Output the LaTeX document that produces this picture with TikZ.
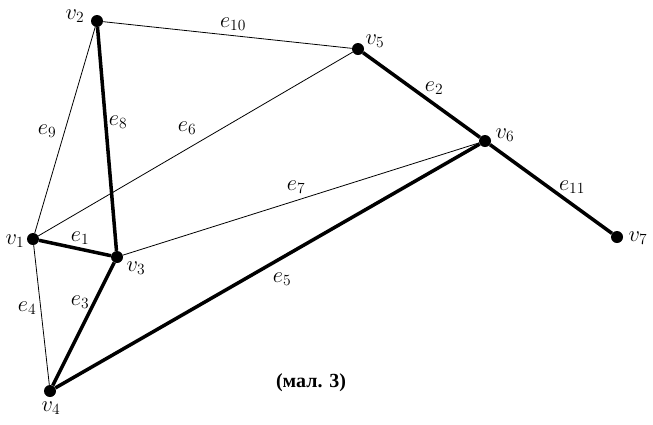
\documentclass[tikz,border=0pt]{standalone}
\usepackage{amsmath}
\usepackage{fontspec}
\newfontfamily\captionfont{Liberation Serif}

\begin{document}
\begin{tikzpicture}[x=1pt,y=-1pt]
\tikzstyle{every node}+=[inner sep=0pt]
\tikzstyle{vertex}=[circle,fill=black,minimum size=12pt]
\tikzstyle{lbl}=[font=\huge,scale=1.08]
\tikzstyle{bold edge}=[black,line width=3.5pt]
\tikzstyle{light edge}=[black,line width=0.8pt]
\useasboundingbox (0,0) rectangle (653,424);
\node [vertex] (v1) at (33,239) {};
\node [vertex] (v2) at (97,21) {};
\node [vertex] (v3) at (117,257) {};
\node [vertex] (v4) at (50,391) {};
\node [vertex] (v5) at (358,49) {};
\node [vertex] (v6) at (485,141) {};
\node [vertex] (v7) at (617,237) {};
\draw [light edge] (v1) -- (v2);
\draw [light edge] (v1) -- (v4);
\draw [light edge] (v1) -- (v5);
\draw [light edge] (v2) -- (v5);
\draw [light edge] (v3) -- (v6);
\draw [bold edge] (v1) -- (v3);
\draw [bold edge] (v2) -- (v3);
\draw [bold edge] (v3) -- (v4);
\draw [bold edge] (v4) -- (v6);
\draw [bold edge] (v5) -- (v6);
\draw [bold edge] (v6) -- (v7);
\node [lbl] (n1) at (15,241) {$v_1$};
\node [lbl] (n2) at (75,16) {$v_2$};
\node [lbl] (n3) at (136,268) {$v_3$};
\node [lbl] (n4) at (51,408) {$v_4$};
\node [lbl] (n5) at (375,41) {$v_5$};
\node [lbl] (n6) at (505,135) {$v_6$};
\node [lbl] (n7) at (638,238) {$v_7$};
\node [lbl] (l1) at (80,238) {$e_1$};
\node [lbl] (l2) at (434,88) {$e_2$};
\node [lbl] (l3) at (80,302) {$e_3$};
\node [lbl] (l4) at (27,308) {$e_4$};
\node [lbl] (l5) at (282,279) {$e_5$};
\node [lbl] (l6) at (187,128) {$e_6$};
\node [lbl] (l7) at (296,187) {$e_7$};
\node [lbl] (l8) at (118,122) {$e_8$};
\node [lbl] (l9) at (47,131) {$e_9$};
\node [lbl] (l10) at (233,24) {$e_{10}$};
\node [lbl] (l11) at (572,187) {$e_{11}$};
\node [font=\captionfont\bfseries\fontsize{20}{23}\selectfont] (cap) at (311,383) {(мал. 3)};
\end{tikzpicture}
\end{document}
